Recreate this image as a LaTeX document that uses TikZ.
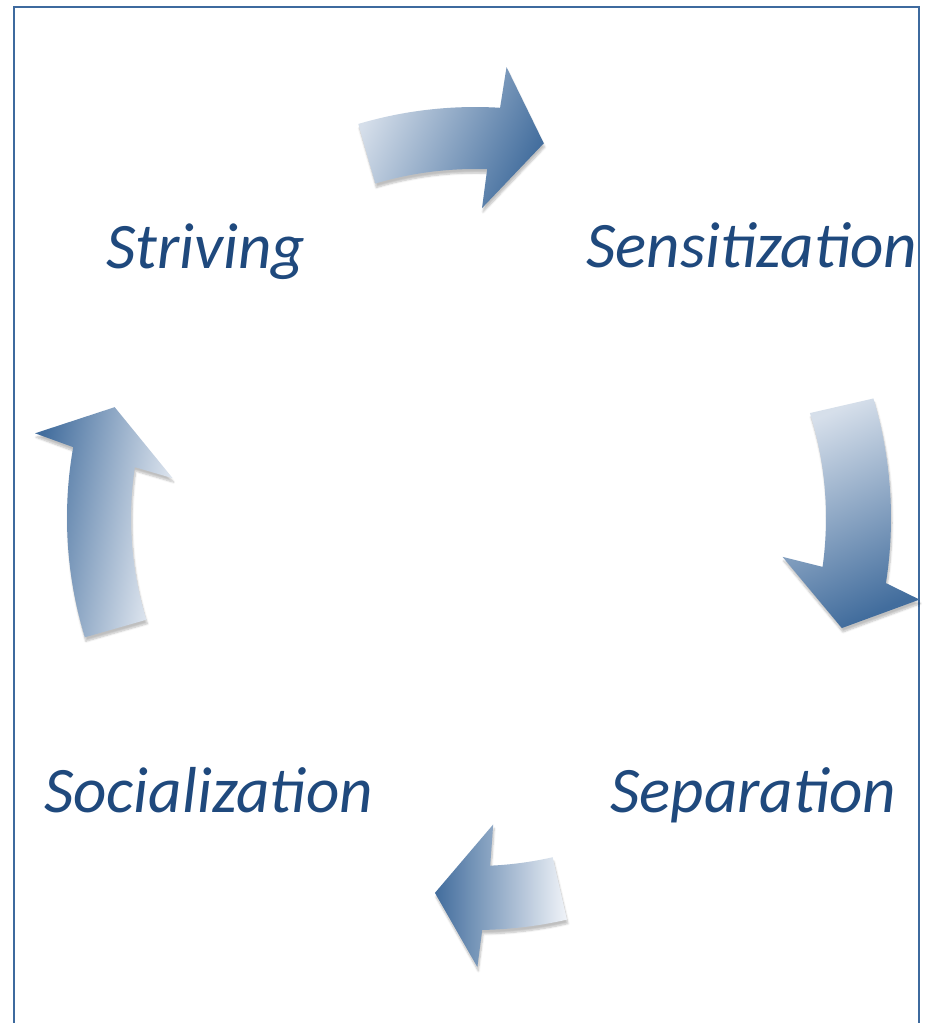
\documentclass[tikz,border=0pt]{standalone}
\usepackage{fontspec}
\setmainfont{Carlito}
\usetikzlibrary{shadows.blur}
\definecolor{txtblue}{HTML}{1F497D}
\definecolor{framecol}{HTML}{3E6A9E}
\definecolor{arlight}{HTML}{F0F3F8}
\definecolor{ardark}{HTML}{426D9D}
\tikzset{
  label/.style={font=\fontsize{65}{74}\selectfont\itshape, text=txtblue, inner sep=0pt, anchor=base west},
  cyclearrow/.style={blur shadow={shadow xshift=1pt, shadow yshift=-4pt, shadow blur steps=6, shadow opacity=25}},
}
\begin{document}
\begin{tikzpicture}[x=1pt,y=-1pt]
\useasboundingbox (0,0) rectangle (926,1023);
\draw[framecol, line width=2pt] (14,1030) -- (14,7) -- (919,7) -- (919,1030);
% labels
\node[label] (striving) at (106,268) {Striving};
\node[label] (sens) at (586,267) {Sensitization};
\node[label] (social) at (44,812) {Socialization};
\node[label] (separ) at (610,812) {Separation};
\begin{scope}[shift={(475,518)}]
% top arrow
\path[cyclearrow, left color=arlight!85!ardark, right color=ardark, shading angle=65]
  (-106.5:411) arc[start angle=-106.5, end angle=-86.5, radius=411]
  -- (-86:452) -- (-79.6:381) -- (-88.7:310) -- (-88:349)
  arc[start angle=-88, end angle=-106.6, radius=349] -- cycle;
% right arrow
\path[cyclearrow, left color=arlight!85!ardark, right color=ardark, shading angle=25]
  (-16.7:416) arc[start angle=-16.7, end angle=9, radius=416]
  -- (10.4:452) -- (16.7:383) -- (7.2:310) -- (8:351)
  arc[start angle=8, end angle=-17.4, radius=351] -- cycle;
% bottom arrow
\path[cyclearrow, left color=ardark, right color=arlight, shading angle=90]
  (77.1:412) arc[start angle=77.1, end angle=89, radius=412]
  -- (89.7:449) -- (96.1:377) -- (86.6:307) -- (87.5:348)
  arc[start angle=87.5, end angle=77.1, radius=348] -- cycle;
% left arrow
\path[cyclearrow, left color=ardark, right color=arlight, shading angle=80]
  (163:408) arc[start angle=163, end angle=190, radius=408]
  -- (190.9:448) -- (197.1:377) -- (187.5:305) -- (188.5:344)
  arc[start angle=188.5, end angle=162.8, radius=344] -- cycle;
\end{scope}
\end{tikzpicture}
\end{document}
